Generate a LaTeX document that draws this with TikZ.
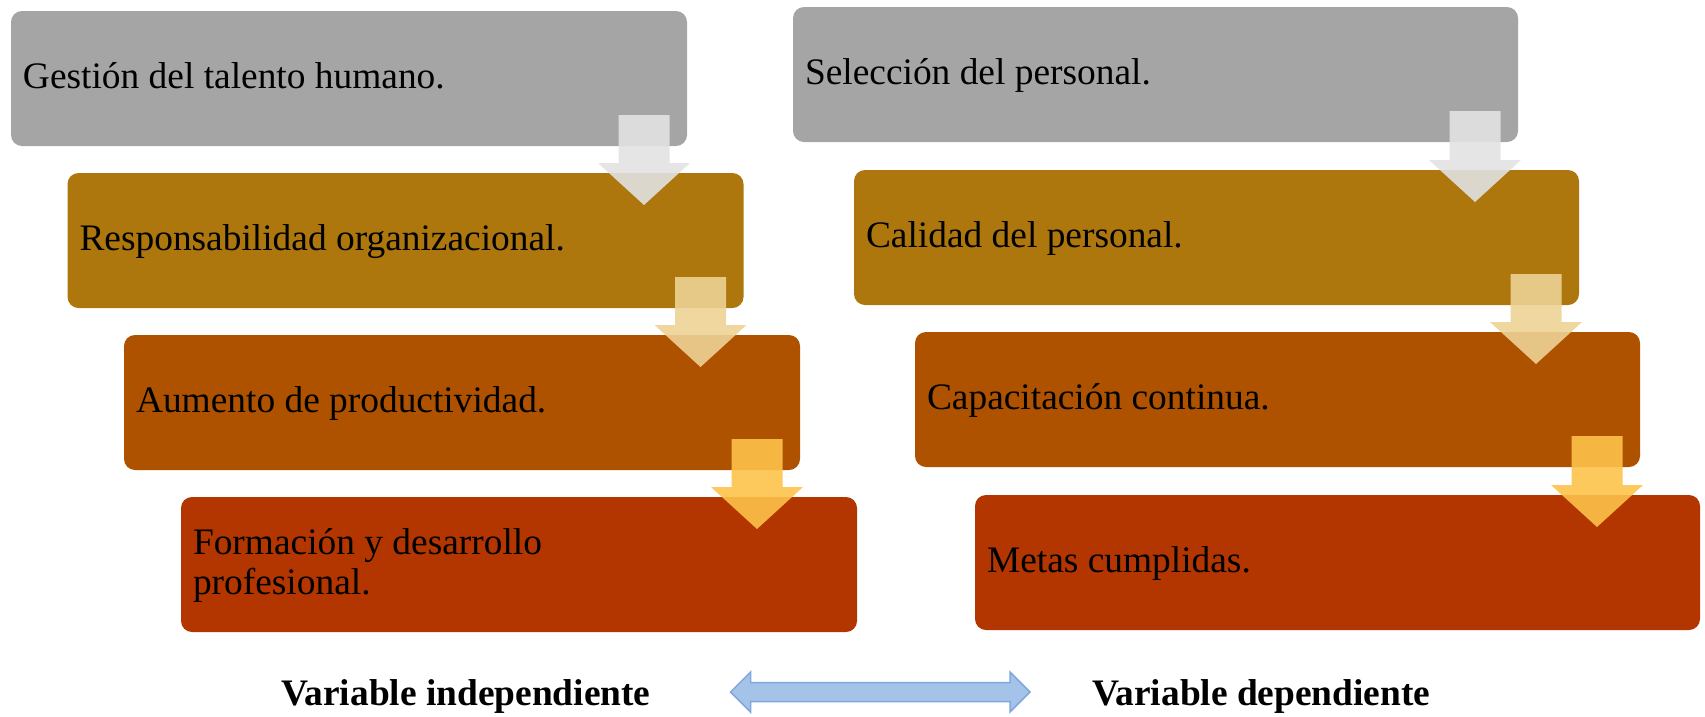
\documentclass[tikz,border=0pt]{standalone}
\usepackage{fontspec}
\setmainfont{Liberation Serif}
\usetikzlibrary{calc}
\definecolor{cgray}{HTML}{A5A5A5}
\definecolor{cgold}{HTML}{AD770D}
\definecolor{corange}{HTML}{AE5200}
\definecolor{cred}{HTML}{B33500}
\definecolor{carA}{HTML}{E2E2E2}
\definecolor{carB}{HTML}{EED295}
\definecolor{carC}{HTML}{FDC24A}
\definecolor{cblue}{HTML}{A5C3E9}
\definecolor{cblueline}{HTML}{7FA8DC}
\tikzset{
  box/.style={rounded corners=11pt, inner sep=0pt, outer sep=0pt, anchor=north west, minimum height=135pt},
  lbox/.style={box, minimum width=676pt},
  rbox/.style={box, minimum width=725pt},
  lbl/.style={anchor=base west, inner sep=0pt, outer sep=0pt, font=\fontsize{37.4}{40}\selectfont, text=black},
  blbl/.style={lbl, font=\fontsize{37.4}{40}\selectfont\bfseries},
  arA/.style={fill=carA, fill opacity=0.9},
  arB/.style={fill=carB, fill opacity=0.9},
  arC/.style={fill=carC, fill opacity=0.9},
  dbl/.style={fill=cblue, draw=cblueline, line width=1.5pt, line join=miter}
}
\newcommand\flowarrow[3]{%
  \coordinate (t) at ($(#2.south east)+(-43,-31)$);
  \coordinate (h) at (t |- #3.north);
  \fill[#1] ($(t)+(-25.5,0)$) -- ($(t)+(25.5,0)$) -- ($(h)+(25.5,-10)$) -- ($(h)+(46,-10)$)
     -- ($(h)+(0,32)$) -- ($(h)+(-46,-10)$) -- ($(h)+(-25.5,-10)$) -- cycle;}
\begin{document}
\begin{tikzpicture}[x=1pt,y=-1pt]
\useasboundingbox (0,0) rectangle (1705,716);
% left column
\node[lbox, fill=cgray]   (L1) at (11,11) {};
\node[lbox, fill=cgold]   (L2) at (67.5,173) {};
\node[lbox, fill=corange] (L3) at (124,335) {};
\node[lbox, fill=cred]    (L4) at (181,497) {};
% right column
\node[rbox, fill=cgray]   (R1) at (793,7) {};
\node[rbox, fill=cgold]   (R2) at (854,170) {};
\node[rbox, fill=corange] (R3) at (915,332) {};
\node[rbox, fill=cred]    (R4) at (975,495) {};
% texts
\node[lbl] (tL1) at ($(L1.west)+(12,10)$) {Gestión del talento humano.};
\node[lbl] (tL2) at ($(L2.west)+(12,10)$) {Responsabilidad organizacional.};
\node[lbl] (tL3) at ($(L3.west)+(12,10)$) {Aumento de productividad.};
\node[lbl] (tL4) at ($(L4.west)+(12,-10)$) {\begin{tabular}[t]{@{}l@{}}Formación y desarrollo\\profesional.\end{tabular}};
\node[lbl] (tR1) at ($(R1.west)+(12,10)$) {Selección del personal.};
\node[lbl] (tR2) at ($(R2.west)+(12,10)$) {Calidad del personal.};
\node[lbl] (tR3) at ($(R3.west)+(12,10)$) {Capacitación continua.};
\node[lbl] (tR4) at ($(R4.west)+(12,10)$) {Metas cumplidas.};
% flow arrows
\flowarrow{arA}{L1}{L2}
\flowarrow{arB}{L2}{L3}
\flowarrow{arC}{L3}{L4}
\flowarrow{arA}{R1}{R2}
\flowarrow{arB}{R2}{R3}
\flowarrow{arC}{R3}{R4}
% bottom labels
\node[blbl] (VI) at (281,705) {Variable independiente};
\node[blbl] (VD) at (1092,705) {Variable dependiente};
\coordinate (dl) at ($(VI.base east)+(80,-13)$);
\coordinate (dr) at ($(VD.base west)+(-62,-13)$);
\filldraw[dbl] (dl) -- ($(dl)+(20,-20)$) -- ($(dl)+(20,-9.5)$) -- ($(dr)+(-20,-9.5)$) -- ($(dr)+(-20,-20)$)
   -- (dr) -- ($(dr)+(-20,20)$) -- ($(dr)+(-20,9.5)$) -- ($(dl)+(20,9.5)$) -- ($(dl)+(20,20)$) -- cycle;
\end{tikzpicture}
\end{document}
